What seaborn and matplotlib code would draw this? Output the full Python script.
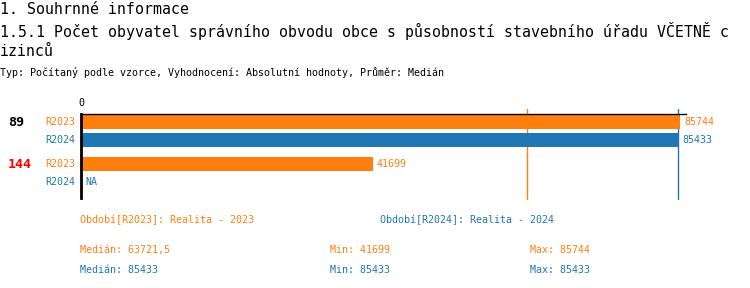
import numpy as np
import pandas as pd
import matplotlib
matplotlib.use("Agg")
import matplotlib.pyplot as plt
import seaborn as sns

# ---- data ----
groups = ["89", "144"]
group_colors = ["#000000", "#ff0000"]
periods = ["R2023", "R2024"]
period_colors = ["#ff7f0e", "#1f77b4"]
values_r2023 = [85744, 41699]
values_r2024 = [85433, np.nan]
medians = [63721.5, 85433]
mins = [41699, 85433]
maxs = [85744, 85433]
median_texts = ["63721,5", "85433"]
period_titles = ["Období[R2023]: Realita - 2023", "Období[R2024]: Realita - 2024"]
title1 = "1. Souhrnné informace"
title2 = "1.5.1 Počet obyvatel správního obvodu obce s působností stavebního úřadu VČETNĚ c"
title3 = "izinců"
subtitle = "Typ: Počítaný podle vzorce, Vyhodnocení: Absolutní hodnoty, Průměr: Medián"

rows = []
for g, a, b in zip(groups, values_r2023, values_r2024):
    rows.append({"group": g, "period": periods[0], "value": a})
    rows.append({"group": g, "period": periods[1], "value": b})
df = pd.DataFrame(rows)

sns.set_style("white")
plt.rcParams["font.family"] = ["DejaVu Sans Mono", "DejaVu Sans"]
plt.rcParams["text.color"] = "black"
plt.rcParams["xtick.color"] = "black"

W, H = 750, 288
fig = plt.figure(figsize=(W / 100, H / 100), dpi=100)

ax_left, ax_right, ax_top, ax_bot = 81, 686, 114, 198
ax = fig.add_axes([ax_left / W, (H - ax_bot) / H, (ax_right - ax_left) / W, (ax_bot - ax_top) / H])

width = 0.857
sns.barplot(data=df.dropna(), y="group", x="value", hue="period", order=groups,
            hue_order=periods, palette=period_colors, orient="h", dodge=True,
            width=width, gap=0.167, saturation=1, errorbar=None, legend=False,
            linewidth=0, ax=ax, zorder=2)

xmax = 85744 * (ax_right - ax_left) / 599.5
ax.set_xlim(0, xmax)
ax.set_ylim(1 + (ax_bot - 173) / 42, -(131 - ax_top) / 42)

for s in ["right", "bottom"]:
    ax.spines[s].set_visible(False)
ax.spines["top"].set_linewidth(1.0)
ax.spines["top"].set_color("black")
ax.spines["left"].set_linewidth(2.0)
ax.spines["left"].set_color("black")
ax.set_xlabel("")
ax.set_ylabel("")
ax.set_xticks([0])
ax.set_xticklabels(["0"])
ax.xaxis.set_ticks_position("top")
ax.tick_params(axis="x", length=0, pad=4, labelsize=7.2, labelcolor="black")
ax.set_yticks([])
ax.grid(False)

# median lines
for m, c in zip(medians, period_colors):
    ax.axvline(m, ymin=-1 / 84, ymax=1 + 5 / 84, color=c, lw=1.0, zorder=0, clip_on=False)

# labels
off = width / 4
fs = 7.2
for gi, g in enumerate(groups):
    vals = [values_r2023[gi], values_r2024[gi]]
    for pi, (p, c) in enumerate(zip(periods, period_colors)):
        yc = gi + (-off if pi == 0 else off)
        ax.annotate(p, xy=(0, yc), xytext=(-4, 0), textcoords="offset points",
                    ha="right", va="center", color=c, fontsize=fs, annotation_clip=False)
        v = vals[pi]
        txt = "NA" if np.isnan(v) else f"{int(v)}"
        xv = 0 if np.isnan(v) else v
        ax.annotate(txt, xy=(xv, yc), xytext=(3, 0), textcoords="offset points",
                    ha="left", va="center", color=c, fontsize=fs, annotation_clip=False)
    ax.annotate(g, xy=(0, gi - off), xycoords=("figure pixels", "data"),
                xytext=(8, 0), textcoords="offset pixels", ha="left", va="center",
                color=group_colors[gi], fontsize=9.6, fontweight="bold",
                annotation_clip=False)

def ftext(x, y, s, **kw):
    kw.setdefault("color", "black")
    fig.text(x / W, 1 - y / H, s, va="center", ha="left", **kw)

ftext(0, 9, title1, fontsize=10.7)
ftext(0, 31, title2, fontsize=10.7)
ftext(0, 52, title3, fontsize=10.7)
ftext(0, 73, subtitle, fontsize=fs)

ftext(80, 220, period_titles[0], fontsize=fs, color=period_colors[0])
ftext(380, 220, period_titles[1], fontsize=fs, color=period_colors[1])
for i, (y, c) in enumerate(zip([250, 270], period_colors)):
    ftext(80, y, f"Medián: {median_texts[i]}", fontsize=fs, color=c)
    ftext(330, y, f"Min: {mins[i]}", fontsize=fs, color=c)
    ftext(530, y, f"Max: {maxs[i]}", fontsize=fs, color=c)

fig.savefig("out.png", dpi=100)
